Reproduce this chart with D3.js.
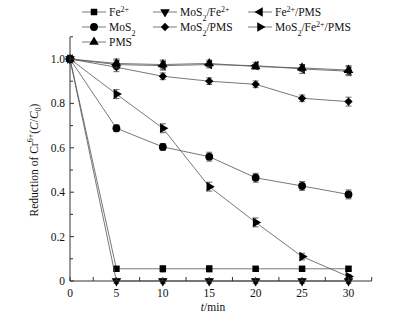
<!DOCTYPE html>
<html>
<head>
<meta charset="utf-8">
<script src="https://cdn.jsdelivr.net/npm/d3@7"></script>
<style>
body { margin: 0; background: #fff; }
svg text { font-family: "Liberation Serif", "Times New Roman", serif; fill: #111; }
</style>
</head>
<body>
<div id="chart"></div>
<script>
var times = [0, 5, 10, 15, 20, 25, 30];
var fe = [1.0, 0.055, 0.055, 0.055, 0.055, 0.055, 0.055];
var mosFe = [1.0, 0.0, 0.0, 0.0, 0.0, 0.0, 0.0];
var fePms = [1.0, 0.975, 0.97, 0.975, 0.97, 0.955, 0.945];
var mos = [1.0, 0.688, 0.604, 0.56, 0.465, 0.428, 0.39];
var mosPms = [1.0, 0.963, 0.922, 0.9, 0.886, 0.823, 0.808];
var mosFePms = [1.0, 0.842, 0.688, 0.425, 0.264, 0.11, 0.02];
var pms = [1.0, 0.98, 0.975, 0.98, 0.966, 0.96, 0.95];
var errFe = [0, 0.01, 0.015, 0.015, 0.01, 0.01, 0.01];
var errSmall = [0, 0.01, 0.01, 0.01, 0.01, 0.01, 0.01];
var errFePms = [0, 0.02, 0.02, 0.015, 0.015, 0.02, 0.02];
var errMos = [0, 0.015, 0.015, 0.02, 0.02, 0.02, 0.02];
var errMosPms = [0, 0.02, 0.015, 0.015, 0.015, 0.015, 0.02];
var errMosFePms = [0, 0.02, 0.02, 0.02, 0.02, 0.015, 0.01];
var errPms = [0, 0.02, 0.02, 0.015, 0.01, 0.015, 0.02];
var yTicks = [0, 0.2, 0.4, 0.6, 0.8, 1.0];
var xTicks = [0, 5, 10, 15, 20, 25, 30];

var w = 396, h = 324;
var svg = d3.select("#chart").append("svg").attr("width", w).attr("height", h);

var x = d3.scaleLinear().domain([0, 32.5]).range([70, 371.7]);
var y = d3.scaleLinear().domain([0, 1.1]).range([281, 36.8]);

// series: values, errors, marker type, rotation
var series = [
  {label: ["Fe", "2+"], v: fe, e: errFe, sym: d3.symbolSquare, size: 42, rot: 0},
  {label: ["MoS", "2", "/Fe", "2+"], v: mosFe, e: errSmall, sym: d3.symbolTriangle, size: 40, rot: 180},
  {label: ["Fe", "2+", "/PMS"], v: fePms, e: errFePms, sym: d3.symbolTriangle, size: 40, rot: -90},
  {label: ["MoS", "2"], v: mos, e: errMos, sym: d3.symbolCircle, size: 48, rot: 0},
  {label: ["MoS", "2", "/PMS"], v: mosPms, e: errMosPms, sym: d3.symbolDiamond2, size: 44, rot: 0},
  {label: ["MoS", "2", "/Fe", "2+", "/PMS"], v: mosFePms, e: errMosFePms, sym: d3.symbolTriangle, size: 40, rot: 90},
  {label: ["PMS"], v: pms, e: errPms, sym: d3.symbolTriangle, size: 40, rot: 0}
];

var line = d3.line().x(function(d){ return x(d.t); }).y(function(d){ return y(d.v); });

series.forEach(function(s){
  var pts = times.map(function(t, i){ return {t: t, v: s.v[i], e: s.e[i]}; });
  svg.append("path").attr("d", line(pts)).attr("fill", "none")
     .attr("stroke", "#555").attr("stroke-width", 0.8);
  var g = svg.append("g");
  pts.forEach(function(p){
    if (p.e > 0) {
      g.append("path")
       .attr("d", "M" + (x(p.t) - 3) + "," + y(p.v + p.e) + "h6M" + x(p.t) + "," + y(p.v + p.e) +
                  "V" + y(p.v - p.e) + "M" + (x(p.t) - 3) + "," + y(p.v - p.e) + "h6")
       .attr("stroke", "#444").attr("stroke-width", 0.8).attr("fill", "none");
    }
    g.append("path")
     .attr("d", d3.symbol().type(s.sym).size(s.size)())
     .attr("transform", "translate(" + x(p.t) + "," + y(p.v) + ") rotate(" + s.rot + ")")
     .attr("fill", "#000");
  });
});

// axes
var axisCol = "#333";
var yAxis = svg.append("g").attr("transform", "translate(70,0)");
yAxis.append("line").attr("x1", 0).attr("x2", 0).attr("y1", y(1.1)).attr("y2", y(0))
     .attr("stroke", axisCol).attr("stroke-width", 1);
d3.range(0, 12).forEach(function(i){
  var v = i / 10;
  yAxis.append("line").attr("x1", 0).attr("x2", i % 2 === 0 ? 4 : 3)
       .attr("y1", y(v)).attr("y2", y(v)).attr("stroke", axisCol);
});
yTicks.forEach(function(v){
  yAxis.append("text").attr("x", -5).attr("y", y(v)).attr("dy", "0.35em")
       .attr("text-anchor", "end").attr("font-size", 11.5)
       .text(v === 0 ? "0" : d3.format(".1f")(v));
});

var xAxis = svg.append("g").attr("transform", "translate(0,281)");
xAxis.append("line").attr("x1", x(0)).attr("x2", x(32.5)).attr("y1", 0).attr("y2", 0)
     .attr("stroke", axisCol).attr("stroke-width", 1);
d3.range(0, 14).forEach(function(i){
  var t = i * 2.5;
  xAxis.append("line").attr("x1", x(t)).attr("x2", x(t)).attr("y1", 0).attr("y2", -4)
       .attr("stroke", axisCol);
});
xTicks.forEach(function(t){
  xAxis.append("text").attr("x", x(t)).attr("y", 16).attr("text-anchor", "middle")
       .attr("font-size", 11.5).text(t);
});

// axis titles
var xt = svg.append("text").attr("x", 213).attr("y", 311).attr("text-anchor", "middle").attr("font-size", 11.5);
xt.append("tspan").attr("font-style", "italic").text("t");
xt.append("tspan").text("/min");

var yt = svg.append("text").attr("transform", "translate(38,160) rotate(-90)")
            .attr("text-anchor", "middle").attr("font-size", 11.5);
yt.append("tspan").text("Reduction of Cr");
yt.append("tspan").attr("dy", -5).attr("font-size", 8).text("6+");
yt.append("tspan").attr("dy", 5).text("(");
yt.append("tspan").attr("font-style", "italic").text("C");
yt.append("tspan").text("/");
yt.append("tspan").attr("font-style", "italic").text("C");
yt.append("tspan").attr("dy", 3).attr("font-size", 8).text("0");
yt.append("tspan").attr("dy", -3).text(")");

// legend
var cols = [82, 153, 248];
var rows = [12, 27, 42];
series.forEach(function(s, i){
  var cx = cols[i % 3], cy = rows[Math.floor(i / 3)];
  var lg = svg.append("g");
  lg.append("line").attr("x1", cx).attr("x2", cx + 24).attr("y1", cy).attr("y2", cy)
    .attr("stroke", "#555").attr("stroke-width", 0.8);
  lg.append("path").attr("d", d3.symbol().type(s.sym).size(s.size)())
    .attr("transform", "translate(" + (cx + 12) + "," + cy + ") rotate(" + s.rot + ")")
    .attr("fill", "#000");
  var t = lg.append("text").attr("x", cx + 27).attr("y", cy).attr("dy", "0.35em").attr("font-size", 11.5);
  s.label.forEach(function(part){
    var isSup = part.indexOf("+") >= 0;
    var isSub = part === "2";
    var ts = t.append("tspan").text(part);
    if (isSup) ts.attr("font-size", 8).attr("baseline-shift", "super");
    if (isSub) ts.attr("font-size", 8).attr("baseline-shift", "sub");
  });
});
</script>
</body>
</html>
